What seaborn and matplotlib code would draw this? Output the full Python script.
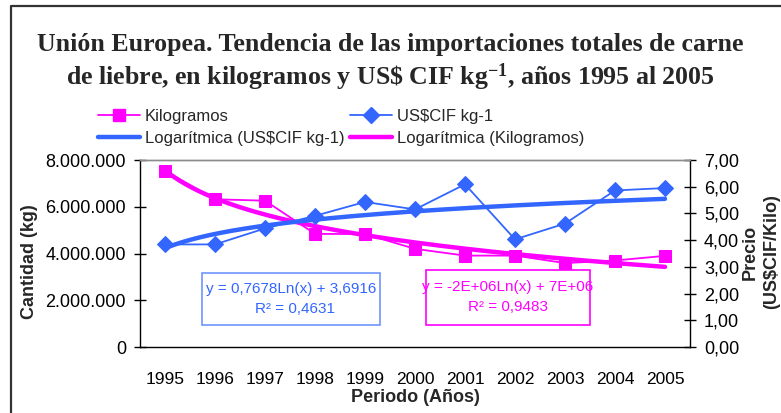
import numpy as np
import pandas as pd
import matplotlib
matplotlib.use("Agg")
import matplotlib.pyplot as plt
from matplotlib.lines import Line2D
from matplotlib.patches import Rectangle
from matplotlib.ticker import FuncFormatter, MultipleLocator
import seaborn as sns

# ---- data ----
years = ["1995", "1996", "1997", "1998", "1999", "2000", "2001", "2002", "2003", "2004", "2005"]
kilogramos = [7540000, 6320000, 6260000, 4840000, 4830000, 4200000, 3910000, 3910000, 3590000, 3700000, 3900000]
usd_cif_kg = [3.84, 3.84, 4.44, 4.91, 5.43, 5.15, 6.09, 4.03, 4.62, 5.86, 5.95]
eq_usd = "y = 0,7678Ln(x) + 3,6916"
r2_usd = "R² = 0,4631"
eq_kg = "y = -2E+06Ln(x) + 7E+06"
r2_kg = "R² = 0,9483"

PINK = "#FF00FF"
BLUE = "#3366FF"
BLUE_BOX = "#6F96FF"

sns.set_theme(style="white")
plt.rcParams["font.family"] = ["Liberation Sans", "DejaVu Sans"]
plt.rcParams["mathtext.fontset"] = "custom"
plt.rcParams["mathtext.rm"] = "Liberation Serif:bold"
plt.rcParams["mathtext.it"] = "Liberation Serif:bold"
plt.rcParams["mathtext.bf"] = "Liberation Serif:bold"

W, H = 781, 413
fig = plt.figure(figsize=(W / 100, H / 100), dpi=100)
fig.patch.set_facecolor("white")

def fx(px):
    return px / W

def fy(py):
    return 1 - py / H

ax = fig.add_axes([fx(140), fy(347), fx(690) - fx(140), fy(160) - fy(347)])
ax2 = ax.twinx()

n = len(years)
df = pd.DataFrame({"pos": np.arange(n), "kg": kilogramos, "usd": usd_cif_kg})

# logarithmic trend lines (fitted on x = 1..n like Excel)
xi = np.arange(1, n + 1)
a_kg, b_kg = np.polyfit(np.log(xi), np.array(kilogramos, float), 1)
a_us, b_us = np.polyfit(np.log(xi), np.array(usd_cif_kg, float), 1)
xd = np.linspace(1, n, 300)
trend = pd.DataFrame({"pos": xd - 1,
                      "kg": a_kg * np.log(xd) + b_kg,
                      "usd": a_us * np.log(xd) + b_us})

sns.lineplot(data=df, x="pos", y="kg", ax=ax, color=PINK, lw=1.3,
             marker="s", markersize=8, markeredgecolor=PINK, zorder=3)
sns.lineplot(data=trend, x="pos", y="kg", ax=ax, color=PINK, lw=3.2, zorder=2)
sns.lineplot(data=df, x="pos", y="usd", ax=ax2, color=BLUE, lw=1.3,
             marker="D", markersize=8, markeredgecolor=BLUE, zorder=3)
sns.lineplot(data=trend, x="pos", y="usd", ax=ax2, color=BLUE, lw=3.2, zorder=2)

ax.set_xlim(-0.5, n - 0.5)
ax.set_ylim(0, 8000000)
ax2.set_ylim(0, 7)
ax.yaxis.set_major_locator(MultipleLocator(2000000))
ax2.yaxis.set_major_locator(MultipleLocator(1))
ax.yaxis.set_major_formatter(FuncFormatter(lambda v, p: f"{int(v):,}".replace(",", ".")))
ax2.yaxis.set_major_formatter(FuncFormatter(lambda v, p: f"{v:.2f}".replace(".", ",")))

ax.set_xticks(np.arange(n))
ax.set_xticklabels(years)
ax.set_xticks(np.arange(-0.5, n, 1.0), minor=True)
ax.tick_params(axis="x", which="major", length=0, pad=18, labelsize=12.5, colors="black")
ax.tick_params(axis="x", which="minor", length=8, width=1, direction="inout", color="black")
ax.tick_params(axis="y", which="major", length=8, width=1, direction="inout", labelsize=13,
               pad=6, colors="black", left=True)
ax2.tick_params(axis="y", which="major", length=8, width=1, direction="inout", labelsize=13,
                pad=6, colors="black", right=True)

ax.set_xlabel("")
ax.set_ylabel("")
ax2.set_ylabel("")
ax.grid(False)
ax2.grid(False)

for a in (ax, ax2):
    a.spines["left"].set_color("black")
    a.spines["bottom"].set_color("black")
    a.spines["right"].set_color("black")
    a.spines["top"].set_color("#8c8c8c")
    for s in a.spines.values():
        s.set_linewidth(1.0)
ax2.spines["left"].set_visible(False)
ax2.spines["bottom"].set_visible(False)
ax.spines["right"].set_visible(False)

# axis titles
fig.text(fx(30), fy(262), "Cantidad (kg)", rotation=90, ha="center", va="center",
         fontsize=13, fontweight="bold")
fig.text(fx(761), fy(252), "Precio\n(US$CIF/Kilo)", rotation=90, ha="center", va="center",
         fontsize=13, fontweight="bold", linespacing=1.35)
fig.text(fx(415), fy(398), "Periodo (Años)", ha="center", va="center",
         fontsize=13, fontweight="bold")

# title
fig.text(fx(390), fy(63),
         "Unión Europea. Tendencia de las importaciones totales de carne\n"
         "de liebre, en kilogramos y US\\$ CIF kg$^{-1}$, años 1995 al 2005",
         ha="center", va="center", fontsize=18.6, fontweight="bold",
         family=["Liberation Serif", "DejaVu Serif"], linespacing=1.2)

# legends
h_kg = Line2D([], [], color=PINK, lw=1.3, marker="s", markersize=8)
h_us = Line2D([], [], color=BLUE, lw=1.3, marker="D", markersize=8)
h_tus = Line2D([], [], color=BLUE, lw=3.2)
h_tkg = Line2D([], [], color=PINK, lw=3.2)
leg_kw = dict(loc="upper left", frameon=False, fontsize=12, handlelength=2.5,
              handletextpad=0.3, labelspacing=0.4, borderpad=0, borderaxespad=0)
fig.legend([h_kg, h_tus], ["Kilogramos", "Logarítmica (US$CIF kg-1)"],
           bbox_to_anchor=(fx(98), fy(109)), **leg_kw)
fig.legend([h_us, h_tkg], ["US$CIF kg-1", "Logarítmica (Kilogramos)"],
           bbox_to_anchor=(fx(350), fy(109)), **leg_kw)

# trend equation boxes
fig.patches.append(Rectangle((fx(202), fy(325)), fx(380) - fx(202), fy(273) - fy(325),
                             transform=fig.transFigure, fill=True, facecolor="white",
                             edgecolor=BLUE_BOX, lw=1.2, zorder=5))
fig.text(fx(291), fy(289), eq_usd, ha="center", va="center", fontsize=11, color=BLUE, zorder=6)
fig.text(fx(295), fy(309), r2_usd, ha="center", va="center", fontsize=11, color=BLUE, zorder=6)
fig.patches.append(Rectangle((fx(426), fy(325)), fx(590) - fx(426), fy(270) - fy(325),
                             transform=fig.transFigure, fill=True, facecolor="white",
                             edgecolor=PINK, lw=1.2, zorder=5))
fig.text(fx(508), fy(287), eq_kg, ha="center", va="center", fontsize=11, color=PINK, zorder=6)
fig.text(fx(508), fy(307), r2_kg, ha="center", va="center", fontsize=11, color=PINK, zorder=6)

# outer chart frame (top and left visible)
fig.lines.append(Line2D([fx(11), fx(11), 1.0], [0.0, fy(6), fy(6)],
                        transform=fig.transFigure, color="#333333", lw=1.6))

fig.savefig("out.png", dpi=100, facecolor="white")
